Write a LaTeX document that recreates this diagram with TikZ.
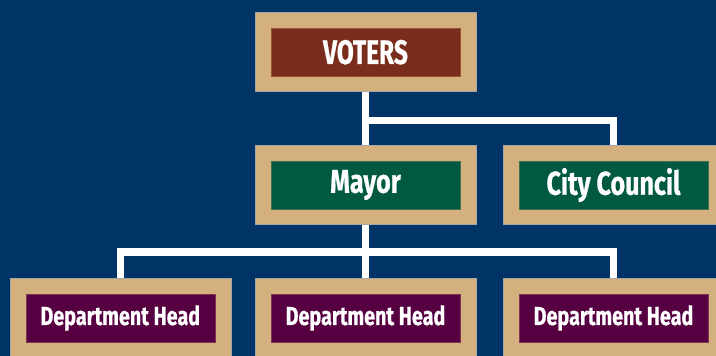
\documentclass[tikz,border=0pt]{standalone}
\usepackage{fontspec}
\newfontfamily\labfont[FakeStretch=0.72,FakeBold=0.6]{Fira Sans}
\newfontfamily\labfontw[FakeStretch=0.76,FakeBold=0.6]{Fira Sans}
\definecolor{navy}{RGB}{0,51,102}
\definecolor{beige}{RGB}{212,176,127}
\definecolor{brickred}{RGB}{122,45,28}
\definecolor{forest}{RGB}{0,89,64}
\definecolor{plum}{RGB}{86,0,66}
\begin{document}
\begin{tikzpicture}[x=1pt,y=-1pt,
  outerbox/.style={fill=beige,draw=black!35,line width=0.6pt,minimum width=221pt,minimum height=79pt,inner sep=0pt},
  innerbox/.style={fill=#1,draw=#1!70!beige,line width=0.4pt,minimum width=189pt,minimum height=48pt,inner sep=0pt,text=white},
  conn/.style={draw=white,line width=7.5pt,line join=miter,line cap=butt}]
\fill[navy] (0,0) rectangle (716,356);
\clip (0,0) rectangle (716,356);
\useasboundingbox (0,0) rectangle (716,356);
% connectors
\coordinate (j1) at (365.5,120.5);
\coordinate (j2) at (365.5,252);
\draw[conn] (365.5,91) -- (365.5,279);
\draw[conn] (j1) -| (613.5,146);
\draw[conn] (120.3,279) |- (j2) -| (613.5,279);
% row 1
\node[outerbox] (voters) at (365.5,52) {};
\node[innerbox=brickred,font=\labfont\bfseries\fontsize{34}{34}\selectfont] (votersin) at (365.5,52.2) {VOTERS};
% row 2
\node[outerbox] (mayor) at (365.5,184.5) {};
\node[innerbox=forest,font=\labfontw\bfseries\fontsize{33}{33}\selectfont] (mayorin) at (365.5,185) {Mayor};
\node[outerbox] (council) at (613.5,184.5) {};
\node[innerbox=forest,font=\labfontw\bfseries\fontsize{33}{33}\selectfont] (councilin) at (613.5,185) {City Council};
% row 3
\node[outerbox] (dept1) at (120.3,317.5) {};
\node[innerbox=plum,font=\labfontw\bfseries\fontsize{26}{26}\selectfont] (dept1in) at (120.3,318) {Department Head};
\node[outerbox] (dept2) at (365.5,317.5) {};
\node[innerbox=plum,font=\labfontw\bfseries\fontsize{26}{26}\selectfont] (dept2in) at (365.5,318) {Department Head};
\node[outerbox] (dept3) at (613.5,317.5) {};
\node[innerbox=plum,font=\labfontw\bfseries\fontsize{26}{26}\selectfont] (dept3in) at (613.5,318) {Department Head};
\end{tikzpicture}
\end{document}
